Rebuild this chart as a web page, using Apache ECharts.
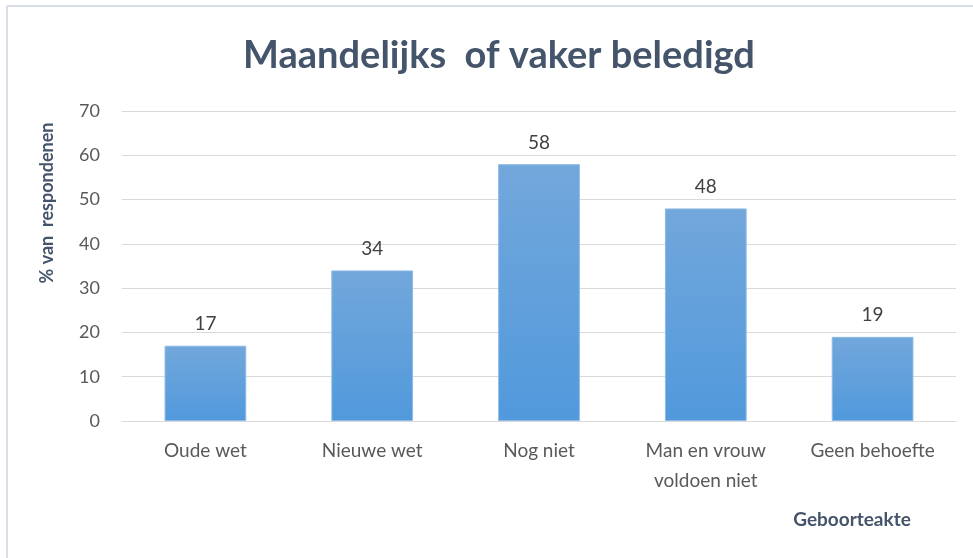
<!DOCTYPE html>
<html>
<head>
<meta charset="utf-8">
<script src="https://cdn.jsdelivr.net/npm/echarts@6/dist/echarts.min.js"></script>
<style>
  html, body { margin: 0; padding: 0; background: #fff; }
  #chart { width: 973px; height: 558px; }
</style>
</head>
<body>
<div id="chart"></div>
<script>
// data
const categories = ['Oude wet', 'Nieuwe wet', 'Nog niet', 'Man en vrouw\nvoldoen niet', 'Geen behoefte']
const values = [17, 34, 58, 48, 19]
const yTicks = [0, 10, 20, 30, 40, 50, 60, 70]

const chart = echarts.init(document.getElementById('chart'))

const fontFamily = 'Lato, "Open Sans", sans-serif'

chart.setOption({
  animation: false,
  title: {
    text: 'Maandelijks  of vaker beledigd',
    left: 494,
    top: 32,
    textAlign: 'center',
    textStyle: {
      fontFamily,
      fontSize: 38,
      fontWeight: 'bold',
      color: '#44546A',
    },
  },
  grid: {
    left: 122,
    right: 17,
    top: 111,
    bottom: 137,
  },
  xAxis: {
    type: 'category',
    data: categories,
    axisTick: { show: false },
    axisLine: { lineStyle: { color: '#D9D9D9', width: 1 } },
    axisLabel: {
      fontFamily,
      fontSize: 19,
      color: '#595959',
      margin: 15,
      lineHeight: 30,
      interval: 0,
    },
  },
  yAxis: {
    type: 'value',
    min: yTicks[0],
    max: yTicks[yTicks.length - 1],
    interval: 10,
    axisLine: { show: false },
    axisTick: { show: false },
    splitLine: { lineStyle: { color: '#D9D9D9', width: 1 } },
    axisLabel: {
      fontFamily,
      fontSize: 18,
      color: '#595959',
      margin: 22,
    },
  },
  series: [
    {
      type: 'bar',
      data: values,
      barWidth: '49%',
      itemStyle: {
        color: new echarts.graphic.LinearGradient(0, 0, 0, 1, [
          { offset: 0, color: '#72A7DB' },
          { offset: 1, color: '#5199DC' },
        ]),
        borderColor: '#8DBBE6',
        borderWidth: 1,
      },
      label: {
        show: true,
        position: 'top',
        distance: 12,
        fontFamily,
        fontSize: 19,
        color: '#404040',
      },
    },
  ],
  graphic: [
    // frame lines of the original chart box
    {
      type: 'line',
      shape: { x1: 7, y1: 6, x2: 7, y2: 558 },
      style: { stroke: '#D9DEE6', lineWidth: 2 },
    },
    {
      type: 'line',
      shape: { x1: 7, y1: 6, x2: 973, y2: 6 },
      style: { stroke: '#D9DEE6', lineWidth: 2 },
    },
    // axis titles
    {
      type: 'text',
      x: 47,
      y: 203,
      rotation: Math.PI / 2,
      style: {
        text: '% van  respondenen',
        fontFamily,
        fontSize: 18,
        fontWeight: 'bold',
        fill: '#44546A',
        align: 'center',
        verticalAlign: 'middle',
      },
    },
    {
      type: 'text',
      x: 852,
      y: 520,
      style: {
        text: 'Geboorteakte',
        fontFamily,
        fontSize: 19,
        fontWeight: 'bold',
        fill: '#44546A',
        align: 'center',
        verticalAlign: 'middle',
      },
    },
  ],
})
</script>
</body>
</html>
